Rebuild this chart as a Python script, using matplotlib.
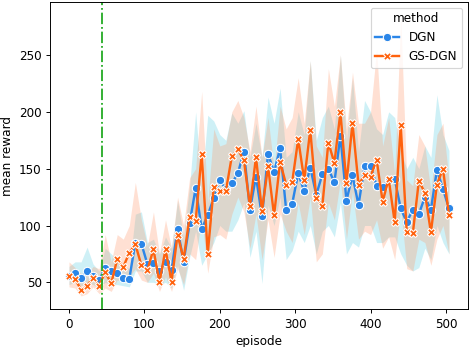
import numpy as np
import matplotlib
matplotlib.use("Agg")
import matplotlib.pyplot as plt

episodes = list(range(0, 512, 8))

dgn_mean = [56, 58, 54, 60, 56, 52, 63, 60, 58, 54, 53, 85, 84, 66, 67, 60, 68, 61, 97, 68,
            102, 133, 97, 109, 124, 140, 132, 137, 146, 165, 114, 143, 108, 163, 147, 168, 114, 119, 146, 130,
            151, 127, 145, 150, 138, 179, 122, 144, 118, 152, 152, 135, 134, 140, 141, 115, 103, 114, 110, 125,
            114, 149, 132, 115]
dgn_low = [48, 50, 47, 49, 48, 45, 50, 48, 48, 47, 46, 60, 60, 50, 50, 48, 50, 45, 65, 43,
           72, 95, 65, 75, 85, 100, 95, 95, 105, 120, 72, 95, 49, 118, 100, 125, 70, 78, 95, 85,
           100, 75, 95, 100, 90, 120, 75, 85, 81, 100, 100, 85, 85, 90, 90, 75, 65, 60, 63, 80,
           70, 100, 85, 75]
dgn_high = [64, 68, 68, 81, 66, 60, 80, 75, 70, 65, 62, 110, 112, 85, 88, 75, 90, 80, 122, 90,
            135, 200, 135, 197, 192, 180, 175, 199, 190, 201, 160, 190, 160, 213, 190, 221, 160, 165, 200, 180,
            245, 175, 195, 205, 185, 250, 175, 230, 165, 210, 200, 185, 180, 200, 195, 165, 150, 160, 150, 170,
            160, 215, 180, 166]

gs_mean = [56, 53, 43.5, 47, 54, 47, 59, 49, 70.5, 63.5, 76, 83.5, 65, 61, 79, 50, 79, 50.5, 92, 70.5,
           107.5, 104, 163, 75, 134, 130, 130, 161, 167, 157.5, 117, 160, 113, 152, 109, 156, 136, 138, 176, 140,
           184, 124, 117, 173, 155, 199.5, 137, 190, 136, 144, 143, 158, 121, 141, 103, 188, 94, 93, 139, 129,
           94, 136, 150, 109]
gs_low = [46, 45, 38, 40, 46, 40, 45, 42, 52, 50, 55, 62, 52, 50, 58, 42, 55, 42, 62, 48,
          75, 70, 108, 58, 90, 92, 88, 110, 125, 112, 80, 110, 70, 105, 72, 110, 95, 85, 120, 92,
          125, 68, 75, 120, 105, 140, 88, 130, 88, 95, 92, 105, 80, 90, 70, 115, 62, 60, 88, 85,
          65, 88, 100, 75]
gs_high = [68, 63, 58, 57, 64, 62, 92, 68, 92, 88, 100, 138, 105, 82, 112, 75, 105, 80, 125, 100,
           142, 150, 218, 120, 185, 170, 172, 200, 210, 195, 165, 205, 160, 195, 150, 205, 185, 195, 230, 190,
           245, 170, 160, 238, 205, 250, 185, 235, 190, 190, 200, 255, 170, 195, 145, 284, 140, 135, 180, 170,
           130, 180, 190, 140]

methods = ["DGN", "GS-DGN"]
marker_list = ["o", "X"]
line_colors = ["#2b86e8", "#ff620e"]
band_colors = ["#5fd0e3", "#ff9a6e"]
vline_x = 44

DPI = 86
fig = plt.figure(figsize=(473 / DPI, 347 / DPI), dpi=DPI)
ax = fig.add_axes([0.1057, 0.1086, 0.8837, 0.8864])

series = [(dgn_mean, dgn_low, dgn_high), (gs_mean, gs_low, gs_high)]
for (m, lo, hi), name, mk, lc, bc in zip(series, methods, marker_list, line_colors, band_colors):
    ax.fill_between(episodes, lo, hi, color=bc, alpha=0.3, linewidth=0)
    ax.plot(episodes, m, color=lc, lw=2, marker=mk, ms=7, mec="white", mew=0.9, label=name)

ax.axvline(vline_x, color="#22aa22", ls="-.", lw=1.5)

ax.set_xlim(-25.2, 529.2)
ax.set_ylim(26.25, 296.9)
ax.set_xticks([0, 100, 200, 300, 400, 500])
ax.set_yticks([50, 100, 150, 200, 250])
ax.set_xlabel("episode")
ax.set_ylabel("mean reward")
ax.legend(title="method", loc="upper right")

fig.savefig("out.png", dpi=DPI)
